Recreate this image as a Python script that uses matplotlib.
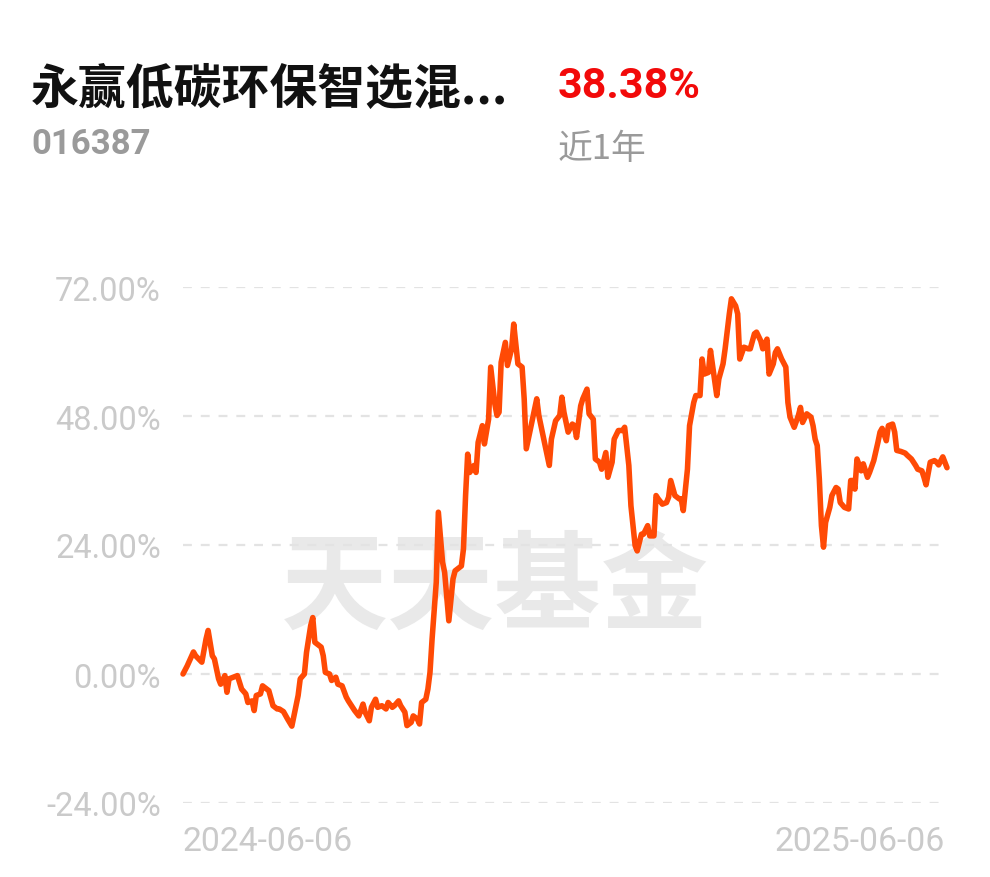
import matplotlib
matplotlib.use("Agg")
import matplotlib.pyplot as plt
import pandas as pd
import numpy as np

title = "永赢低碳环保智选混..."
code = "016387"
ret_text = "38.38%"
period = "近1年"
watermark = "天天基金"
start_date = "2024-06-06"
end_date = "2025-06-06"

yticks = [-24, 0, 24, 48, 72]
ytick_labels = ["-24.00%", "0.00%", "24.00%", "48.00%", "72.00%"]

# days since start date
days = [0, 2, 5, 6, 9, 11, 12, 14, 15, 17, 18, 20, 21, 22, 26, 28, 30, 31, 33, 34,
        35, 37, 38, 40, 41, 43, 45, 46, 48, 50, 52, 53, 55, 56, 58, 59, 61, 62, 63, 66,
        67, 68, 70, 71, 73, 74, 76, 78, 79, 81, 82, 84, 86, 87, 89, 90, 92, 93, 95, 97,
        98, 100, 101, 103, 104, 106, 107, 109, 110, 112, 113, 114, 116, 117, 118, 119, 121, 122, 124, 125,
        127, 129, 130, 133, 134, 135, 136, 137, 139, 140, 141, 143, 144, 146, 147, 149, 150, 151, 152, 154,
        155, 157, 158, 160, 162, 163, 164, 166, 168, 169, 170, 172, 173, 175, 176, 178, 180, 181, 182, 184,
        186, 187, 188, 190, 191, 193, 194, 196, 197, 199, 200, 202, 203, 205, 206, 208, 210, 211, 213, 214,
        216, 217, 219, 220, 222, 223, 225, 226, 227, 229, 231, 232, 233, 235, 237, 238, 239, 241, 242, 244,
        245, 247, 248, 249, 251, 252, 253, 255, 256, 258, 259, 261, 262, 264, 265, 266, 268, 270, 271, 273,
        274, 276, 277, 279, 280, 282, 283, 284, 286, 288, 289, 290, 292, 294, 295, 296, 298, 300, 301, 302,
        303, 304, 305, 306, 307, 309, 310, 312, 313, 314, 316, 318, 319, 320, 321, 322, 324, 325, 327, 328,
        330, 332, 333, 334, 336, 337, 339, 340, 341, 343, 345, 346, 348, 350, 351, 353, 354, 355, 357, 359,
        360, 361, 363, 364, 365]

values = [0.0, 1.5, 4.1, 3.4, 2.2, 6.5, 8.1, 3.4, 2.8, -0.9, -1.9, -0.3, -3.4, -0.9, -0.3, -2.8, -3.7, -5.3, -5.0, -6.8,
          -4.0, -3.7, -2.2, -2.8, -3.1, -5.9, -6.5, -6.5, -7.0, -8.4, -9.7, -7.8, -4.0, -0.9, 0.0, 4.0, 9.0, 10.5, 5.9, 5.0,
          3.4, 0.3, 0.0, -1.2, -0.6, -1.9, -2.2, -4.3, -5.0, -6.2, -6.8, -7.8, -5.6, -7.1, -8.7, -6.2, -4.7, -6.2, -5.9, -6.5,
          -5.3, -6.2, -5.9, -5.0, -5.9, -7.1, -9.6, -9.0, -7.8, -8.4, -9.3, -5.3, -4.7, -2.8, 0.3, 6.5, 17.1, 30.1, 20.8, 18.9,
          9.9, 17.7, 19.2, 20.1, 23.3, 33.2, 40.9, 37.5, 38.8, 37.5, 43.1, 46.2, 42.8, 47.4, 57.1, 50.2, 48.1, 48.7, 58.0, 61.7,
          57.4, 60.5, 65.1, 57.7, 57.1, 51.2, 41.9, 45.6, 49.3, 51.2, 48.1, 44.3, 42.5, 38.8, 43.7, 47.1, 48.1, 51.5, 48.7, 45.0,
          46.5, 46.2, 44.0, 49.9, 51.2, 53.0, 48.4, 47.4, 40.0, 39.4, 38.1, 41.2, 36.6, 39.4, 43.7, 45.3, 45.3, 45.9, 38.8, 31.3,
          23.9, 22.9, 26.0, 26.0, 27.6, 25.7, 25.7, 33.2, 32.6, 31.6, 31.9, 32.9, 36.0, 33.2, 32.6, 32.6, 30.4, 38.1, 46.2, 50.5,
          51.8, 51.8, 58.6, 55.8, 56.1, 60.2, 57.4, 51.8, 54.9, 57.7, 60.5, 67.0, 69.8, 68.5, 67.0, 58.6, 60.8, 60.5, 60.5, 63.3,
          63.6, 62.0, 60.5, 62.3, 55.8, 57.7, 59.8, 60.5, 58.6, 57.1, 50.5, 47.8, 45.9, 48.1, 49.6, 46.8, 48.4, 47.8, 46.2, 43.7,
          42.5, 36.3, 27.6, 23.6, 28.2, 31.0, 33.2, 34.7, 34.4, 31.9, 31.0, 30.7, 36.0, 36.0, 34.4, 40.0, 37.8, 39.1, 36.6, 37.5,
          39.7, 43.1, 45.0, 45.7, 43.4, 46.2, 46.5, 45.0, 41.6, 41.4, 41.1, 40.7, 40.0, 38.8, 38.1, 37.8, 36.6, 35.2, 39.4, 39.7,
          39.4, 38.9, 40.4, 39.4, 38.38]

dates = pd.Timestamp(start_date) + pd.to_timedelta(days, unit="D")

W, H = 990, 878
fig = plt.figure(figsize=(W / 100, H / 100), dpi=100)
fig.patch.set_facecolor("white")

cjk = ["Noto Sans CJK SC", "DejaVu Sans"]

ax = fig.add_axes([183 / W, (H - 804) / H, (947 - 183) / W, (804 - 288) / H])
ax.set_facecolor("none")
ax.set_xlim(pd.Timestamp(start_date), pd.Timestamp(end_date))
ax.set_ylim(-24, 72)
for s in ax.spines.values():
    s.set_visible(False)

ax.set_yticks(yticks)
ax.set_yticklabels(ytick_labels, fontfamily="Roboto", fontsize=23.5, color="#cacaca")
ax.tick_params(axis="y", length=0, pad=16)
ax.set_xticks([])
for yv in yticks:
    ax.axhline(yv, color="#e3e3e3", lw=1.6, ls=(0, (4, 4)), zorder=1)

# watermark
ax.text(0.408, 0.415, watermark, transform=ax.transAxes, ha="center", va="center",
        fontsize=77, fontweight="bold", family=cjk, color="#e9e9e9", zorder=0)

ax.plot(dates, values, color="#ff4a05", lw=4.0, solid_joinstyle="round",
        solid_capstyle="round", zorder=3, clip_on=False)

# x labels
fig.text(183 / W, 1 - 842 / H, start_date, ha="left", va="center", fontfamily="Roboto",
         fontsize=24.3, color="#cacaca")
fig.text(945 / W, 1 - 842 / H, end_date, ha="right", va="center", fontfamily="Roboto",
         fontsize=24.3, color="#cacaca")

# header
fig.text(31 / W, 1 - 89 / H, title, ha="left", va="center", family=cjk,
         fontsize=34.5, fontweight="bold", color="#111111")
fig.text(558 / W, 1 - 87 / H, ret_text, ha="left", va="center", family=["Roboto", "DejaVu Sans"],
         fontsize=31, fontweight="bold", color="#f20a0a")
fig.text(31 / W, 1 - 145 / H, code, ha="left", va="center", family=["Roboto", "DejaVu Sans"],
         fontsize=25, fontweight="bold", color="#9a9a9a")
fig.text(558 / W, 1 - 149 / H, period, ha="left", va="center", family=cjk,
         fontsize=25, color="#9a9a9a")

fig.savefig("out.png", dpi=100, facecolor="white")
